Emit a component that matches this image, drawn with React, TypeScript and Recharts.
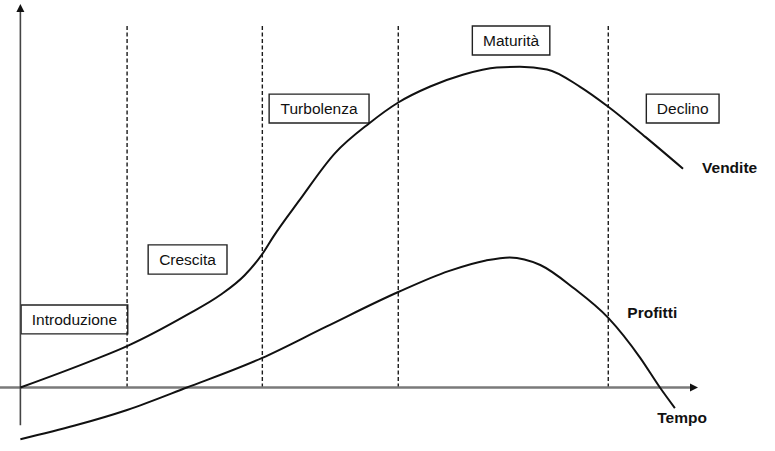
import { LineChart, Line, XAxis, YAxis, ReferenceLine, ReferenceArea, ReferenceDot } from "recharts";

// phases of the product life cycle and where each one ends on the time axis
const phases = ["Introduzione", "Crescita", "Turbolenza", "Maturità", "Declino"];
const phaseEnds = [15.7, 35.6, 55.6, 86.5];

const seriesNames = ["Vendite", "Profitti"];
const timeLabel = "Tempo";

// sales curve (Vendite)
const salesTime = [0, 10.7, 15.7, 24.5, 29.4, 33, 35.6, 37.2, 41.1, 46.3, 51.3, 55.6, 60.3, 65.1, 70.1, 73.5, 77.5, 82.3, 86.5, 92, 97.5];
const salesValues = [0, 7.2, 10.9, 19.1, 24.3, 29.5, 35.1, 39.6, 49.3, 61.6, 69.4, 74.9, 79.1, 82.2, 84.1, 84.3, 83.6, 79.1, 73.8, 65.8, 57.5];

// profit curve (Profitti)
const profitTime = [0, 8, 15.7, 24.5, 35.6, 45, 55.6, 63, 68.5, 72, 76.5, 81.5, 86.5, 91.2, 94.1, 96.3];
const profitValues = [-13.6, -10, -5.9, 0, 7.8, 16, 25.1, 30.6, 33.4, 34.2, 32.2, 26, 18.3, 7.8, 0, -5.4];

const sales = salesTime.map((t, i) => ({ t, v: salesValues[i] }));
const profit = profitTime.map((t, i) => ({ t, v: profitValues[i] }));

// layout of the phase boxes (time / value units)
const phaseBoxes = [
  { x1: 0.1, x2: 15.8, y1: 14.1, y2: 21.7 },
  { x1: 18.8, x2: 30.4, y1: 29.8, y2: 37.5 },
  { x1: 36.6, x2: 51.3, y1: 69.5, y2: 77.1 },
  { x1: 66.5, x2: 77.9, y1: 87.4, y2: 95 },
  { x1: 92.1, x2: 102.8, y1: 69.5, y2: 77.1 },
];
const namePos = [
  { x: 100.3, y: 57.7 },
  { x: 89.3, y: 19.6 },
];
const timePos = { x: 93.7, y: -8 };

const FONT = "'Liberation Sans', Arial, sans-serif";

const Arrow = (color: string, width: number) => (p: any) => {
  const { x1, y1, x2, y2 } = p;
  const vertical = Math.abs(x1 - x2) < 1;
  if (vertical) {
    const top = Math.min(y1, y2);
    const bottom = Math.max(y1, y2);
    return (
      <g>
        <line x1={x1} y1={bottom} x2={x1} y2={top + 6} stroke={color} strokeWidth={width} />
        <polygon points={`${x1},${top} ${x1 - 4},${top + 8} ${x1 + 4},${top + 8}`} fill="#111" />
      </g>
    );
  }
  const left = Math.min(x1, x2);
  const right = Math.max(x1, x2);
  return (
    <g>
      <line x1={left} y1={y1} x2={right - 6} y2={y1} stroke={color} strokeWidth={width} />
      <polygon points={`${right},${y1} ${right - 8},${y1 - 4} ${right - 8},${y1 + 4}`} fill="#111" />
    </g>
  );
};

const BoldText = (text: string) => (p: any) => (
  <text x={p.cx} y={p.cy} dy="0.35em" textAnchor="start" fontFamily={FONT} fontWeight="bold" fontSize={15.5} fill="#111">
    {text}
  </text>
);

export default function App() {
  return (
    <div style={{ position: "absolute", left: 0, top: 0, background: "#fff" }}>
      <LineChart width={775} height={451} margin={{ top: 3.2, right: 41, bottom: 2.6, left: 0 }}>
        <XAxis type="number" dataKey="t" domain={[-3, 105]} hide allowDataOverflow />
        <YAxis type="number" domain={[-16, 101]} hide allowDataOverflow />

        {phaseEnds.map((t) => (
          <ReferenceLine
            key={`d-${t}`}
            segment={[{ x: t, y: 0 }, { x: t, y: 95 }]}
            stroke="#1a1a1a"
            strokeWidth={1.4}
            strokeDasharray="4 2.5"
            ifOverflow="visible"
          />
        ))}

        <ReferenceLine
          segment={[{ x: -3, y: 0 }, { x: 99.7, y: 0 }]}
          ifOverflow="visible"
          shape={Arrow("#7a7a7a", 2.4)}
        />
        <ReferenceLine
          segment={[{ x: 0, y: -9.9 }, { x: 0, y: 100.8 }]}
          ifOverflow="visible"
          shape={Arrow("#444", 1.6)}
        />

        <Line data={sales} dataKey="v" type="monotoneX" stroke="#111" strokeWidth={2} dot={false} isAnimationActive={false} />
        <Line data={profit} dataKey="v" type="monotoneX" stroke="#111" strokeWidth={2} dot={false} isAnimationActive={false} />

        {phases.map((name, i) => (
          <ReferenceArea
            key={name}
            x1={phaseBoxes[i].x1}
            x2={phaseBoxes[i].x2}
            y1={phaseBoxes[i].y1}
            y2={phaseBoxes[i].y2}
            fill="#fff"
            fillOpacity={1}
            stroke="#222"
            strokeWidth={1.4}
            ifOverflow="visible"
            label={{ value: name, position: "center", fill: "#111", fontSize: 15.5, fontFamily: FONT }}
          />
        ))}

        {seriesNames.map((name, i) => (
          <ReferenceDot key={name} x={namePos[i].x} y={namePos[i].y} r={0} ifOverflow="visible" shape={BoldText(name)} />
        ))}
        <ReferenceDot x={timePos.x} y={timePos.y} r={0} ifOverflow="visible" shape={BoldText(timeLabel)} />
      </LineChart>
    </div>
  );
}
